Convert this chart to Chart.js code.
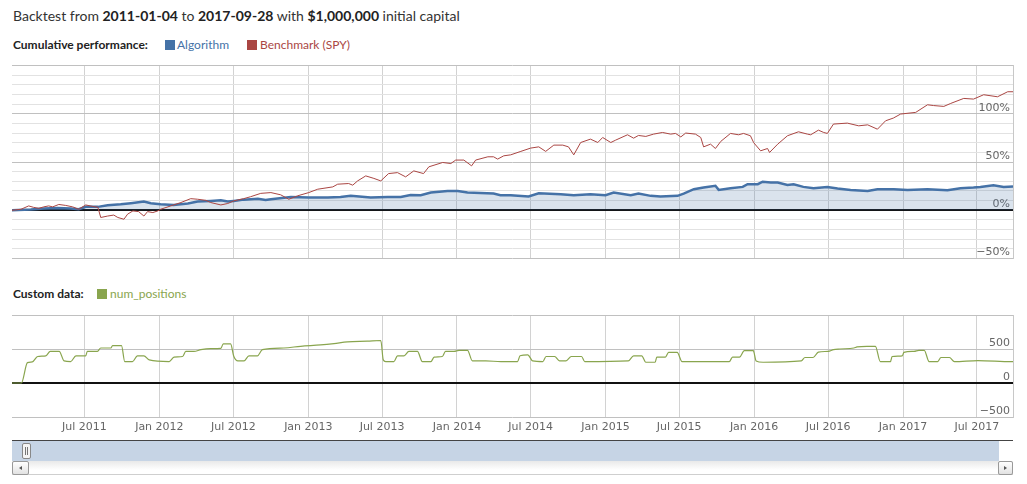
<!DOCTYPE html>
<html>
<head>
<meta charset="utf-8">
<script src="https://cdn.jsdelivr.net/npm/chart.js@4.4.1/dist/chart.umd.min.js"></script>
<style>
  body { margin: 0; background: #fff; }
  #page { position: relative; width: 1027px; height: 484px; overflow: hidden; font-family: Lato, "Open Sans", sans-serif; }
  .abs { position: absolute; }
  #title { left: 13px; top: 7px; font-size: 14px; line-height: 17px; color: #333; white-space: nowrap; }
  #title b { font-weight: bold; color: #222; }
  .legend { left: 13px; font-size: 12px; line-height: 14px; white-space: nowrap; }
  .legend .lbl { font-weight: bold; color: #222; position: absolute; left: 0; top: 0; }
  .legend .sw { position: absolute; width: 10px; height: 10px; top: 2px; }
  .legend .tx { position: absolute; top: 0; }
  #navline { left: 12px; top: 440px; width: 1001px; height: 1px; background: #444; }
  #navband { left: 12px; top: 441px; width: 987px; height: 20px; background: #c6d4e5; }
  #handle { left: 22px; top: 443px; width: 7px; height: 14px; background: #f4f4f4; border: 1px solid #888; border-radius: 2px; }
  #handle:before, #handle:after { content: ''; position: absolute; top: 3px; width: 1px; height: 8px; background: #777; }
  #handle:before { left: 2px; } #handle:after { left: 4px; }
  #track { left: 12px; top: 461px; width: 1001px; height: 13px; background: linear-gradient(#e9e9e9, #fff 70%); border-bottom: 1px solid #cfcfcf; }
  .btn { top: 461px; background: linear-gradient(#fff, #e2e2e2); border: 1px solid #999; border-radius: 2px; box-sizing: border-box; height: 14px; }
  #btnL { left: 12px; width: 17px; }
  #btnR { left: 998px; width: 15px; }
  .btn i { position: absolute; top: 4px; width: 0; height: 0; border-top: 2.5px solid transparent; border-bottom: 2.5px solid transparent; }
  #btnL i { left: 6px; border-right: 3px solid #555; }
  #btnR i { left: 5px; border-left: 3px solid #555; }
</style>
</head>
<body>
<div id="page">
  <div id="title" class="abs">Backtest from <b>2011-01-04</b> to <b>2017-09-28</b> with <b>$1,000,000</b> initial capital</div>

  <div class="legend abs" style="top:38px; width:400px; height:14px;">
    <span class="lbl">Cumulative performance:</span>
    <span class="sw" style="left:152px; background:#4572A7;"></span>
    <span class="tx" style="left:164px; color:#4572A7;">Algorithm</span>
    <span class="sw" style="left:234px; background:#AA4643;"></span>
    <span class="tx" style="left:247px; color:#AA4643;">Benchmark (SPY)</span>
  </div>

  <div class="abs" style="left:12px; top:55px; width:1002px; height:210px;"><canvas id="chart-perf"></canvas></div>

  <div class="legend abs" style="top:287px; width:300px; height:14px;">
    <span class="lbl">Custom data:</span>
    <span class="sw" style="left:84px; background:#89A54E;"></span>
    <span class="tx" style="left:97px; color:#89A54E;">num_positions</span>
  </div>

  <div class="abs" style="left:12px; top:305px; width:1002px; height:135px;"><canvas id="chart-custom"></canvas></div>

  <div id="navline" class="abs"></div>
  <div id="navband" class="abs"></div>
  <div id="handle" class="abs"></div>
  <div id="track" class="abs"></div>
  <div id="btnL" class="btn abs"><i></i></div>
  <div id="btnR" class="btn abs"><i></i></div>
</div>

<script>
// x range of the backtest
const startDate = '2011-01-04';
const endDate = '2017-09-28';

// vertical grid / tick labels
const tickDates = ['2011-07-01', '2012-01-01', '2012-07-01', '2013-01-01', '2013-07-01', '2014-01-01', '2014-07-01',
  '2015-01-01', '2015-07-01', '2016-01-01', '2016-07-01', '2017-01-01', '2017-07-01'];
const tickLabels = ['Jul 2011', 'Jan 2012', 'Jul 2012', 'Jan 2013', 'Jul 2013', 'Jan 2014', 'Jul 2014',
  'Jan 2015', 'Jul 2015', 'Jan 2016', 'Jul 2016', 'Jan 2017', 'Jul 2017'];

// y grid values (labels only on the 50% steps)
const perfGrid = [-50, -40, -30, -20, -10, 0, 10, 20, 30, 40, 50, 60, 70, 80, 90, 100, 110, 120, 130, 140, 150];
const perfLabelled = [-50, 0, 50, 100];
const customGrid = [-500, 0, 500, 1000];
const customLabelled = [-500, 0, 500];

// Benchmark (SPY) cumulative return, %
const benchDates = ['2011-01-04', '2011-01-26', '2011-02-14', '2011-02-26', '2011-03-11', '2011-03-23', '2011-04-04',
  '2011-04-14', '2011-04-29', '2011-05-16', '2011-06-02', '2011-06-17', '2011-07-04', '2011-07-21', '2011-08-03',
  '2011-08-10', '2011-08-27', '2011-09-11', '2011-09-21', '2011-10-06', '2011-10-15', '2011-10-28', '2011-11-11',
  '2011-11-24', '2011-12-03', '2011-12-16', '2011-12-28', '2012-01-04', '2012-01-29', '2012-02-23', '2012-03-18',
  '2012-04-04', '2012-04-24', '2012-05-06', '2012-05-31', '2012-06-17', '2012-07-02', '2012-07-26', '2012-08-12',
  '2012-09-06', '2012-10-01', '2012-10-25', '2012-11-14', '2012-12-06', '2013-01-02', '2013-01-24', '2013-03-02',
  '2013-03-14', '2013-04-10', '2013-04-20', '2013-05-02', '2013-05-22', '2013-06-11', '2013-06-28', '2013-07-17',
  '2013-08-08', '2013-08-28', '2013-09-17', '2013-10-11', '2013-10-24', '2013-11-27', '2013-12-17', '2013-12-29',
  '2014-01-18', '2014-02-06', '2014-02-16', '2014-03-18', '2014-04-01', '2014-04-11', '2014-04-26', '2014-05-13',
  '2014-06-07', '2014-07-01', '2014-07-21', '2014-08-07', '2014-08-27', '2014-09-18', '2014-10-02', '2014-10-15',
  '2014-11-01', '2014-11-25', '2014-12-13', '2014-12-25', '2015-01-14', '2015-01-26', '2015-02-24', '2015-03-11',
  '2015-03-23', '2015-04-10', '2015-04-29', '2015-05-21', '2015-06-10', '2015-06-22', '2015-07-05', '2015-07-17',
  '2015-08-10', '2015-08-23', '2015-08-30', '2015-09-16', '2015-09-28', '2015-10-11', '2015-11-04', '2015-11-24',
  '2015-12-06', '2015-12-23', '2015-12-31', '2016-01-17', '2016-02-03', '2016-02-08', '2016-02-28', '2016-03-23',
  '2016-04-19', '2016-05-11', '2016-05-19', '2016-06-07', '2016-06-20', '2016-06-29', '2016-07-14', '2016-08-17',
  '2016-09-14', '2016-10-06', '2016-10-30', '2016-11-19', '2016-12-08', '2016-12-26', '2017-02-01', '2017-03-02',
  '2017-03-17', '2017-04-11', '2017-04-28', '2017-05-30', '2017-06-23', '2017-07-18', '2017-08-21', '2017-09-15',
  '2017-09-28'];
const benchValues = [0, 1, 4.5, 3, 2, 3.5, 4.5,
  3.5, 6, 5, 3.5, 1, 5.5, 4, 3,
  -7.5, -6, -5, -7.5, -9.3, -4, -0.7, -1.4,
  -6, -1.4, -2.4, -0.7, 1, 4.5, 8, 12,
  11.4, 10.3, 8, 5.5, 7, 9.7, 12, 14,
  17.5, 18.3, 16, 11.4, 15, 18.3, 21.8, 24.2,
  27, 27.7, 26, 30.4, 35.6, 33, 30.4, 38,
  39, 34.6, 40.8, 38, 45, 49.5, 48.4, 52,
  52, 46, 52, 55.4, 55.4, 53, 56.4, 57.4,
  61, 64.4, 65.7, 61, 67.5, 67.5, 65.7, 57.4,
  70.2, 73.7, 70.2, 75.4, 70.2, 72.7, 78.2, 74.7,
  77.5, 76.5, 78.9, 80.6, 78.9, 79.6, 76, 80,
  78.9, 75.4, 65.7, 68.5, 64, 71.3, 79.6, 78.2,
  79.6, 77.2, 70, 61.6, 64, 59.9, 68.5, 77.2,
  81.3, 78.9, 78.2, 83, 80.6, 79.6, 89.3, 90.3,
  87.5, 88.5, 84, 92.7, 95.5, 99.7, 101.4, 109.3,
  108.5, 107.6, 110.7, 115.9, 115.2, 119.7, 117.6, 122.8,
  122.8];

// Algorithm cumulative return, %
const algoDates = ['2011-01-04', '2011-02-19', '2011-03-23', '2011-04-26', '2011-05-28', '2011-06-17', '2011-07-04',
  '2011-08-03', '2011-08-27', '2011-09-28', '2011-10-23', '2011-11-24', '2011-12-11', '2012-01-04', '2012-02-05',
  '2012-03-11', '2012-04-04', '2012-05-06', '2012-05-31', '2012-06-17', '2012-07-02', '2012-07-26', '2012-08-30',
  '2012-09-18', '2012-10-01', '2012-11-19', '2013-01-02', '2013-02-18', '2013-03-21', '2013-04-15', '2013-06-03',
  '2013-07-15', '2013-08-16', '2013-09-09', '2013-10-04', '2013-10-29', '2013-12-09', '2014-01-03', '2014-01-27',
  '2014-02-28', '2014-04-01', '2014-04-18', '2014-05-13', '2014-06-26', '2014-07-21', '2014-09-13', '2014-10-15',
  '2014-11-25', '2015-01-01', '2015-01-21', '2015-03-04', '2015-03-23', '2015-04-22', '2015-05-16', '2015-06-27',
  '2015-07-12', '2015-08-06', '2015-08-30', '2015-09-28', '2015-10-06', '2015-11-04', '2015-12-04', '2015-12-16',
  '2016-01-10', '2016-01-22', '2016-02-11', '2016-02-28', '2016-03-23', '2016-04-07', '2016-05-01', '2016-05-26',
  '2016-06-29', '2016-07-24', '2016-08-25', '2016-10-06', '2016-10-30', '2016-12-09', '2017-01-12', '2017-03-02',
  '2017-04-20', '2017-05-22', '2017-06-23', '2017-07-10', '2017-08-11', '2017-09-05', '2017-09-28'];
const algoValues = [0, 0.7, 1.7, 2.4, 1.7, 1, 3.5,
  3.5, 5.2, 6.2, 7.3, 9, 7.3, 6.2, 5.5,
  7, 9, 9.7, 10.4, 9, 9.7, 11, 12,
  10.7, 11.4, 13.8, 13.1, 13.1, 13.8, 14.9, 13.1,
  13.8, 13.8, 15.9, 15.6, 18.3, 20, 20, 18.3,
  18, 17.3, 15.6, 15.6, 14.2, 17.6, 16.6, 15.6,
  16.6, 15.6, 18.3, 15.6, 17.3, 14.9, 14.2, 14.9,
  17.3, 21.8, 23.5, 25.3, 21.1, 22.8, 24.2, 27,
  27, 29.6, 28.7, 28.7, 26.3, 27, 24.2, 22.8,
  24.2, 22.5, 21.1, 20, 21.8, 21.8, 21.1, 21.8,
  20.8, 22.8, 23.5, 24.2, 26, 24.2, 24.6];

// num_positions custom data
const posDates = ['2011-01-04', '2011-01-27', '2011-02-11', '2011-02-23', '2011-03-08', '2011-03-28', '2011-04-08',
  '2011-04-30', '2011-05-12', '2011-05-28', '2011-06-10', '2011-07-04', '2011-07-08', '2011-08-02', '2011-08-10',
  '2011-09-04', '2011-09-08', '2011-09-30', '2011-10-08', '2011-10-27', '2011-11-08', '2011-11-24', '2011-12-07',
  '2012-01-25', '2012-02-06', '2012-02-27', '2012-03-06', '2012-03-26', '2012-04-12', '2012-05-06', '2012-05-31',
  '2012-06-06', '2012-06-24', '2012-07-02', '2012-07-12', '2012-07-27', '2012-08-08', '2012-08-29', '2012-09-10',
  '2012-11-02', '2012-12-13', '2013-01-31', '2013-03-05', '2013-04-07', '2013-05-26', '2013-06-28', '2013-07-04',
  '2013-07-10', '2013-07-30', '2013-08-08', '2013-08-24', '2013-09-05', '2013-09-26', '2013-10-08', '2013-10-29',
  '2013-11-06', '2013-11-26', '2013-12-04', '2013-12-25', '2014-01-06', '2014-01-27', '2014-02-08', '2014-03-13',
  '2014-04-19', '2014-05-30', '2014-06-05', '2014-06-24', '2014-07-06', '2014-07-31', '2014-08-08', '2014-08-29',
  '2014-09-10', '2014-09-26', '2014-10-09', '2014-11-03', '2014-11-11', '2015-02-26', '2015-03-11', '2015-03-31',
  '2015-04-10', '2015-05-03', '2015-05-07', '2015-05-28', '2015-06-05', '2015-06-26', '2015-07-08', '2015-11-01',
  '2015-11-09', '2015-11-26', '2015-12-08', '2015-12-30', '2016-01-06', '2016-01-23', '2016-04-26', '2016-05-05',
  '2016-05-25', '2016-06-07', '2016-07-01', '2016-07-14', '2016-07-30', '2016-09-02', '2016-09-10', '2016-10-04',
  '2016-10-25', '2016-11-06', '2016-12-01', '2016-12-05', '2016-12-30', '2017-01-03', '2017-01-28', '2017-02-09',
  '2017-02-22', '2017-03-06', '2017-03-27', '2017-04-04', '2017-04-25', '2017-05-07', '2017-07-04', '2017-09-24',
  '2017-09-28'];
const posValues = [0, 0, 300, 310, 390, 400, 465,
  465, 325, 315, 400, 400, 465, 465, 515,
  515, 550, 550, 315, 315, 400, 400, 340,
  315, 380, 390, 465, 465, 490, 505, 510,
  575, 575, 390, 325, 325, 400, 400, 490,
  515, 540, 560, 580, 605, 615, 625, 340,
  315, 315, 400, 400, 465, 465, 315, 315,
  380, 390, 465, 465, 480, 480, 325, 325,
  315, 315, 400, 415, 325, 315, 390, 390,
  325, 325, 390, 390, 315, 325, 400, 400,
  305, 305, 380, 380, 450, 450, 315, 315,
  380, 380, 475, 475, 325, 305, 325, 375,
  375, 455, 465, 490, 500, 515, 530, 540,
  540, 315, 315, 390, 400, 450, 465, 480,
  480, 315, 315, 375, 375, 315, 330, 315,
  315];

(function () {
  const ts = s => Date.parse(s + 'T00:00:00Z');
  const pts = (dates, vals) => dates.map((d, i) => ({ x: ts(d), y: vals[i] }));
  const MINUS = '\u2212';
  const fmt = (v, suffix) => (v < 0 ? MINUS : '') + Math.abs(v) + suffix;

  Chart.defaults.font.family = '"DejaVu Sans", Verdana, sans-serif';
  Chart.defaults.font.size = 11;
  Chart.defaults.color = '#666';

  function xAxis(showLabels) {
    return {
      type: 'linear',
      min: ts(startDate),
      max: ts(endDate),
      afterBuildTicks: s => { s.ticks = tickDates.map(d => ({ value: ts(d) })); },
      afterFit: s => { s.height = showLabels ? 23 : 0; },
      grid: { color: '#d2d2d2', drawTicks: false },
      border: { display: false },
      ticks: {
        display: showLabels,
        autoSkip: false,
        maxRotation: 0,
        padding: 4,
        callback: (v, i) => tickLabels[i]
      }
    };
  }

  function yAxis(min, max, grid, labelled, suffix, minorColor) {
    return {
      position: 'right',
      min, max,
      afterBuildTicks: s => { s.ticks = grid.map(v => ({ value: v })); },
      afterFit: s => { s.width = 0; },
      border: { display: true, color: '#c8c8c8' },
      grid: {
        drawTicks: false,
        color: c => c.tick.value === 0 ? '#111' : (labelled.includes(c.tick.value) || c.tick.value === max ? '#c0c0c0' : minorColor),
        lineWidth: c => c.tick.value === 0 ? 2 : 1
      },
      ticks: {
        autoSkip: false,
        mirror: true,
        padding: -3,
        labelOffset: -6,
        callback: v => labelled.includes(v) ? fmt(v, suffix) : ''
      }
    };
  }

  function mkPerf(ctx) {
    return new Chart(ctx, {
      type: 'line',
      data: {
        datasets: [
          { label: 'Benchmark (SPY)', data: pts(benchDates, benchValues), borderColor: '#AA4643', borderWidth: 1, pointRadius: 0, fill: false, tension: 0 },
          { label: 'Algorithm', data: pts(algoDates, algoValues), borderColor: '#4572A7', borderWidth: 2.5, pointRadius: 0,
            backgroundColor: 'rgba(69,114,167,0.2)', fill: 'origin', tension: 0 }
        ]
      },
      options: {
        responsive: true,
        maintainAspectRatio: false,
        animation: false,
        events: [],
        layout: { padding: { top: 10.5, bottom: 6.5, left: 0, right: 1 } },
        plugins: { legend: { display: false }, tooltip: { enabled: false } },
        scales: {
          x: xAxis(false),
          y: yAxis(-50, 150, perfGrid, perfLabelled, '%', '#e2e2e2')
        }
      }
    });
  }

  function mkCustom(ctx) {
    return new Chart(ctx, {
      type: 'line',
      data: {
        datasets: [
          { label: 'num_positions', data: pts(posDates, posValues), borderColor: '#89A54E', borderWidth: 1.2, pointRadius: 0,
            fill: false, cubicInterpolationMode: 'monotone' }
        ]
      },
      options: {
        responsive: true,
        maintainAspectRatio: false,
        animation: false,
        events: [],
        layout: { padding: { top: 10, bottom: 0, left: 0, right: 1 } },
        plugins: { legend: { display: false }, tooltip: { enabled: false } },
        scales: {
          x: xAxis(true),
          y: yAxis(-500, 1000, customGrid, customLabelled, '', '#c0c0c0')
        }
      }
    });
  }

  mkPerf(document.getElementById('chart-perf'));
  mkCustom(document.getElementById('chart-custom'));
})();
</script>
</body>
</html>
